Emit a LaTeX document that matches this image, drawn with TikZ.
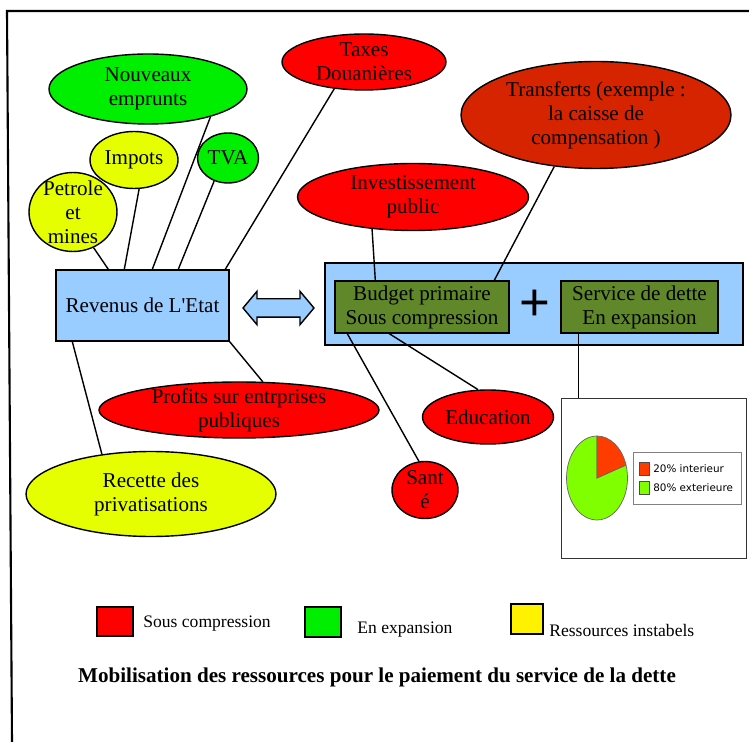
\documentclass[tikz,border=0pt]{standalone}
\usepackage{fontspec}
\setmainfont{Liberation Serif}
\setsansfont{DejaVu Sans}
\newfontfamily\plusfont{Liberation Sans}
\usetikzlibrary{shapes.geometric,shapes.arrows}

\definecolor{sousred}{RGB}{255,0,0}
\definecolor{expgreen}{RGB}{0,238,0}
\definecolor{instyellow}{RGB}{230,255,0}
\definecolor{transred}{RGB}{214,36,0}
\definecolor{etatblue}{RGB}{153,204,255}
\definecolor{budgetolive}{RGB}{96,136,42}
\definecolor{piered}{RGB}{255,60,0}
\definecolor{piegreen}{RGB}{128,255,0}

\begin{document}
\begin{tikzpicture}[x=0.02cm,y=-0.02cm,
    oval/.style={draw=black,line width=0.8pt,ellipse,inner sep=0pt,align=center,font=\fontsize{12}{13.6}\selectfont},
    redoval/.style={oval,fill=sousred},
    greenoval/.style={oval,fill=expgreen},
    yellowoval/.style={oval,fill=instyellow},
    box/.style={draw=black,line width=0.8pt,rectangle,inner sep=0pt,align=center,font=\fontsize{12}{13.6}\selectfont},
    keysquare/.style={draw=black,line width=1pt,rectangle,inner sep=0pt},
    keytext/.style={anchor=west,inner sep=0pt,font=\fontsize{10}{12}\selectfont},
    link/.style={line width=0.8pt}]
    \useasboundingbox (0,0) rectangle (749,742);

    % frame
    \draw[line width=1.2pt] (749,11) -- (7,11) -- (12,742);

    % ressources
    \node[greenoval,minimum width=3.96cm,minimum height=1.40cm] (nouveaux) at (148,89) {Nouveaux\\emprunts};
    \node[yellowoval,minimum width=1.76cm,minimum height=1.14cm] (impots) at (134,160) {Impots};
    \node[greenoval,minimum width=1.22cm,minimum height=1.00cm] (tva) at (228,158) {TVA};
    \node[yellowoval,minimum width=1.76cm,minimum height=1.58cm,inner sep=-0.15cm] (petrole) at (73,212) {Petrole\\et\\mines};
    \node[redoval,minimum width=3.28cm,minimum height=1.12cm] (taxes) at (364,62) {Taxes\\Douanières};
    \node[redoval,minimum width=5.60cm,minimum height=1.12cm,inner ysep=-0.05cm] (profits) at (239,410) {Profits sur entrprises\\publiques};
    \node[yellowoval,minimum width=5.00cm,minimum height=1.70cm] (recette) at (151,494) {Recette des\\privatisations};

    % depenses
    \node[oval,fill=transred,minimum width=5.40cm,minimum height=2.14cm] (transferts) at (596,115) {Transferts (exemple :\\la caisse de\\compensation )};
    \node[redoval,minimum width=4.62cm,minimum height=1.34cm] (invest) at (413,197) {Investissement\\public};
    \node[redoval,minimum width=2.62cm,minimum height=1.08cm] (education) at (488,417) {Education};
    \node[redoval,minimum width=1.32cm,minimum height=1.14cm,inner sep=-0.05cm] (sante) at (425,490) {Sant\\é};

    % boites centrales
    \node[box,fill=etatblue,minimum width=3.46cm,minimum height=1.42cm] (revenus) at (142.5,305.5) {Revenus de L\textquotesingle Etat};
    \node[draw=black,line width=0.8pt,double arrow,fill=etatblue,inner sep=0.17cm,
          minimum height=1.42cm,double arrow head extend=0.15cm,double arrow tip angle=100] (echange) at (278.5,308) {};
    \node[box,fill=etatblue,minimum width=8.36cm,minimum height=1.64cm] (depenses) at (534,304) {};
    \node[box,fill=budgetolive,minimum width=3.48cm,minimum height=1.04cm] (budget) at (422,307) {Budget primaire\\Sous compression};
    \node[box,fill=budgetolive,minimum width=3.14cm,minimum height=1.04cm] (service) at (639.5,307) {Service de dette\\En expansion};
    \node[inner sep=0pt,font=\plusfont\fontsize{30}{30}\selectfont] (plus) at (535,305.5) {+};

    % camembert
    \node[draw=black!80,line width=0.5pt,rectangle,fill=white,minimum width=3.70cm,minimum height=3.20cm] (piebox) at (653.5,478) {};
    \begin{scope}[shift={(597,478)},x=1cm,y=1cm]
        \filldraw[fill=piegreen,draw=black!60,line width=0.4pt] (0,0) -- (0,0.84) arc[start angle=90,end angle=378,x radius=0.61,y radius=0.84] -- cycle;
        \filldraw[fill=piered,draw=black!60,line width=0.4pt] (0,0) -- (0,0.84) arc[start angle=90,end angle=18,x radius=0.61,y radius=0.84] -- cycle;
    \end{scope}
    \node[draw=black!50,line width=0.5pt,rectangle,fill=white,minimum width=2.16cm,minimum height=1.04cm] (piekey) at (687,478) {};
    \node[draw=black!70,line width=0.4pt,fill=piered,inner sep=0pt,minimum width=0.2cm,minimum height=0.26cm] (keyint) at (644,468.5) {};
    \node[draw=black!70,line width=0.4pt,fill=piegreen,inner sep=0pt,minimum width=0.2cm,minimum height=0.26cm] (keyext) at (644,487.5) {};
    \node[anchor=west,inner sep=0pt,font=\sffamily\fontsize{5.9}{7}\selectfont] (txtint) at (653,468.5) {20\% interieur};
    \node[anchor=west,inner sep=0pt,font=\sffamily\fontsize{5.9}{7}\selectfont] (txtext) at (653,487.5) {80\% exterieure};

    % liens
    \path[link] (petrole.-60) edge ([xshift=1.06cm]revenus.north west);
    \path[link] (impots.-80) edge ([xshift=1.38cm]revenus.north west);
    \path[link] (nouveaux.-24) edge ([xshift=1.94cm]revenus.north west);
    \path[link] (tva.-121) edge ([xshift=2.46cm]revenus.north west);
    \path[link] (taxes.-138) edge ([xshift=3.40cm]revenus.north west);
    \path[link] (revenus.south east) edge (profits.50);
    \path[link] ([xshift=0.34cm]revenus.south west) edge (recette.141);
    \path[link] (invest.-142) edge ([xshift=0.82cm]budget.north west);
    \path[link] (transferts.-129) edge ([xshift=3.20cm]budget.north west);
    \path[link] ([xshift=0.26cm]budget.south west) edge (sante.102);
    \path[link] ([xshift=1.10cm]budget.south west) edge (education.110);
    \path[link] ([xshift=0.36cm]service.south west) edge ([xshift=0.36cm]service.south west |- piebox.north);

    % legende
    \node[keysquare,fill=sousred,minimum width=0.72cm,minimum height=0.58cm] (keyred) at (115,621.5) {};
    \node[keytext] (txtred) at (143,624) {Sous compression};
    \node[keysquare,fill=expgreen,minimum width=0.72cm,minimum height=0.60cm] (keygreen) at (323,622) {};
    \node[keytext] (txtgreen) at (357,630) {En expansion};
    \node[keysquare,fill=yellow,minimum width=0.64cm,minimum height=0.60cm] (keyyellow) at (527,619) {};
    \node[keytext] (txtyellow) at (549,630) {Ressources instabels};

    \node[inner sep=0pt,font=\bfseries\fontsize{12}{14}\selectfont] (titre) at (377,677) {Mobilisation des ressources pour le paiement du service de la dette};
\end{tikzpicture}
\end{document}
